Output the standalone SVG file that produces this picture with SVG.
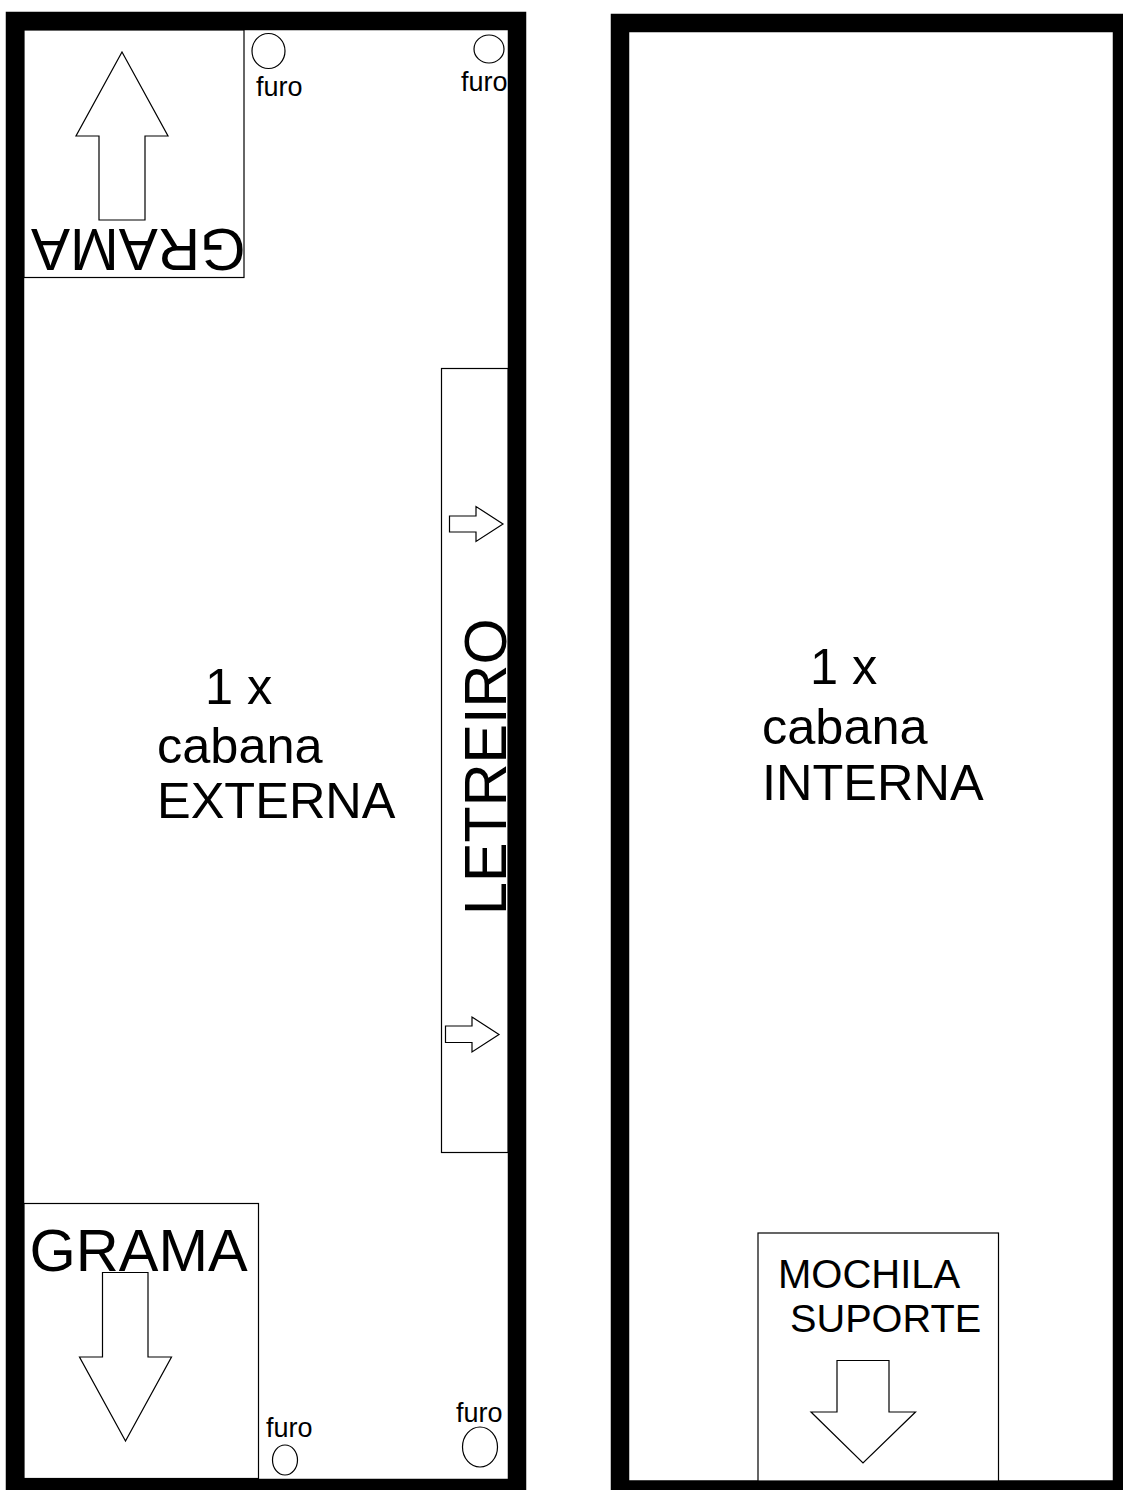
<svg xmlns="http://www.w3.org/2000/svg" width="1123" height="1490" viewBox="0 0 1123 1490">
<style>
.w{fill:#fff;stroke:#000;stroke-width:1.2}
.f{fill:#fff;stroke:#000;stroke-width:18.5}
text{font-family:"Liberation Sans",Arial,sans-serif;fill:#000}
.s{font-size:27px}.m{font-size:50.500px}.l{font-size:59.500px}.n{font-size:40px}
.t{font-size:58.500px}.v{font-size:59.300px}
</style>
<rect width="1123" height="1490" fill="#fff"/>
<rect class="f" x="15" y="21" width="502" height="1467"/>
<rect class="f" x="620" y="23" width="502" height="1466.500"/>
<g id="grama-top">
<rect class="w" x="24" y="30" width="220" height="247.500"/>
<path class="w" d="M122 52L168 136H145V220H99V136H76Z"/>
<text class="t" transform="translate(245.500 229) rotate(180)">GRAMA</text>
</g>
<g id="grama-bottom">
<rect class="w" x="24" y="1203.500" width="234.500" height="275"/>
<text class="l" x="29.500" y="1271">GRAMA</text>
<path class="w" d="M102.500 1272.500H148V1357H171.500L125.500 1441L79.500 1357H102.500Z"/>
</g>
<g id="letreiro">
<rect class="w" x="441.500" y="368.500" width="66.500" height="784"/>
<path class="w" d="M449.500 516H476V506.500L503 524L476 541.500V532H449.500Z"/>
<path class="w" d="M445.500 1026H472V1017L499 1034.500L472 1052V1042.500H445.500Z"/>
<text class="v" transform="translate(506 915) rotate(-90)">LETREIRO</text>
</g>
<g id="furo-1"><ellipse class="w" cx="268.500" cy="51" rx="16.500" ry="17.500"/><text class="s" x="256" y="96">furo</text></g>
<g id="furo-2"><ellipse class="w" cx="489" cy="49" rx="15" ry="14"/><text class="s" x="461" y="91">furo</text></g>
<g id="furo-3"><ellipse class="w" cx="285" cy="1460" rx="12.500" ry="15"/><text class="s" x="266" y="1437">furo</text></g>
<g id="furo-4"><ellipse class="w" cx="480" cy="1447" rx="17.500" ry="20"/><text class="s" x="456" y="1422">furo</text></g>
<g id="label-externa">
<text class="m" x="205" y="704">1 x</text>
<text class="m" x="157" y="763">cabana</text>
<text class="m" x="157" y="818">EXTERNA</text>
</g>
<g id="label-interna">
<text class="m" x="810" y="684">1 x</text>
<text class="m" x="762" y="744">cabana</text>
<text class="m" x="762" y="800">INTERNA</text>
</g>
<g id="mochila">
<rect class="w" x="758" y="1233" width="240.500" height="248"/>
<path class="w" d="M837 1360.500H889V1412H915.500L863 1463L811 1412H837Z"/>
<text class="n" x="778" y="1288">MOCHILA</text>
<text class="n" style="font-size:39.700px" x="790" y="1332">SUPORTE</text>
</g>
</svg>
